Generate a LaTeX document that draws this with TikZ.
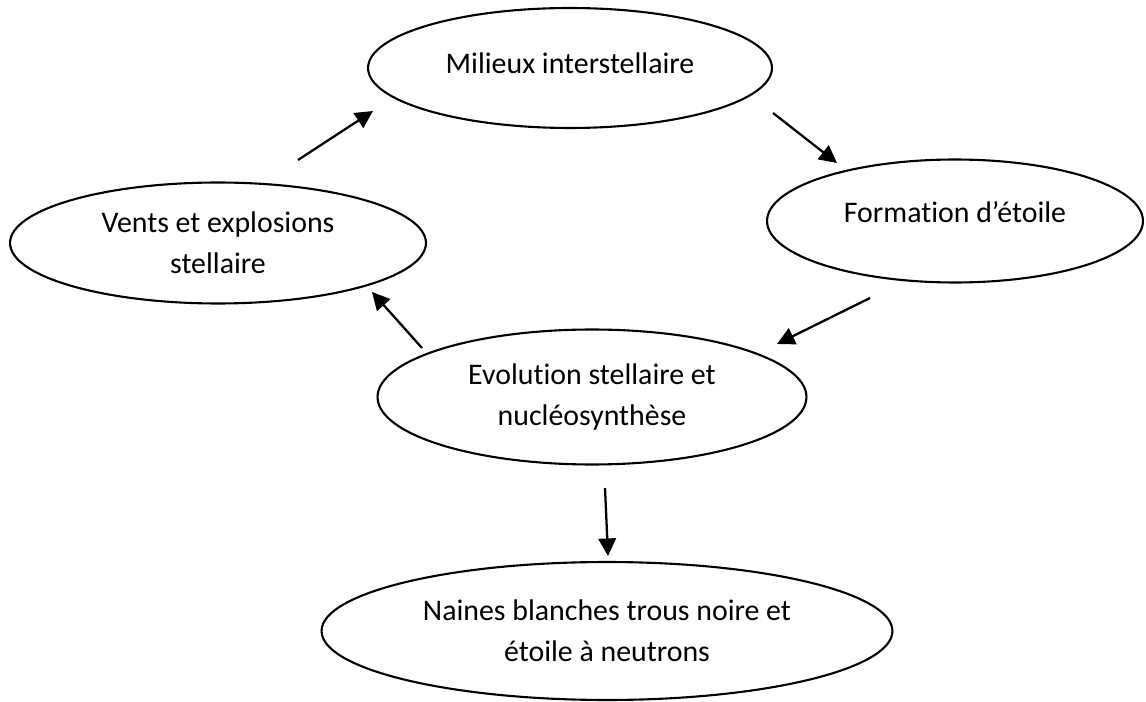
\documentclass[tikz,border=0pt]{standalone}
\usepackage{fontspec}
\setmainfont{Carlito}[Ligatures=NoCommon]
\usepackage{tikz}
\usetikzlibrary{shapes.geometric}
\usetikzlibrary{arrows.meta}
\usetikzlibrary{positioning}

\tikzset{
	bulle/.style={ellipse, draw, line width=1.2pt, inner sep=0pt, align=center, font=\fontsize{17}{23.3}\selectfont},
	fleche/.style={-{Triangle[length=10pt,width=10pt]}, line width=1.3pt}
}

\begin{document}
\begin{tikzpicture}[x=0.02cm,y=-0.02cm]
		
		\useasboundingbox (0,0) rectangle (1146,702);
		
		
		\node (milieu) at (570,68)[bulle, minimum width=8.08cm, minimum height=2.4cm, text depth=5.6pt] {Milieux interstellaire};
		\node (formation) at (955,221)[bulle, minimum width=7.52cm, minimum height=2.46cm, text depth=10pt] {Formation d’étoile};
		\node (vents) at (218,243)[bulle, minimum width=8.32cm, minimum height=2.42cm] {Vents et explosions\\ stellaire};
		\node (evolution) at (592,397)[bulle, minimum width=8.58cm, minimum height=2.7cm] {Evolution stellaire et\\ nucléosynthèse};
		\node (naines) at (607,631)[bulle, minimum width=11.42cm, minimum height=2.76cm] {Naines blanches trous noire et\\ étoile à neutrons};
		
		
		\coordinate (v-m) at (298,160);
		\coordinate (m-v) at (373,111);
		\coordinate (m-f) at (773,113);
		\coordinate (f-m) at (837,163);
		\coordinate (f-e) at (870,298);
		\coordinate (e-f) at (777,344);
		\coordinate (e-v) at (422,348);
		\coordinate (v-e) at (372,292);
		\coordinate (e-n) at (605,488);
		\coordinate (n-e) at (608,556);
		
		\draw[fleche] (v-m) -- (m-v);
		\draw[fleche] (m-f) -- (f-m);
		\draw[fleche] (f-e) -- (e-f);
		\draw[fleche] (e-v) -- (v-e);
		\draw[fleche] (e-n) -- (n-e);
		
	\end{tikzpicture}
\end{document}
